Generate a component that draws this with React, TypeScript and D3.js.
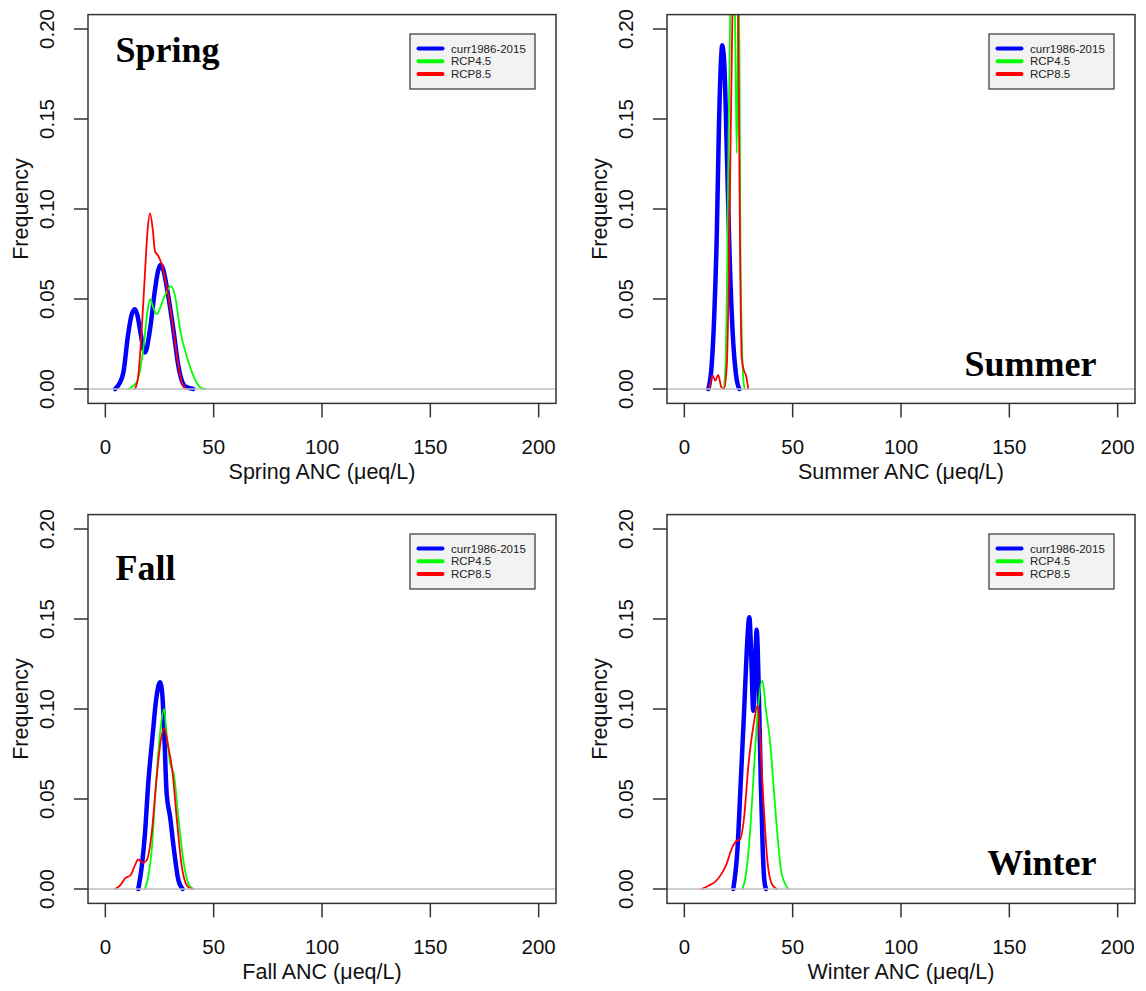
import React from "react";
import * as d3 from "d3";

const xTicks = [0, 50, 100, 150, 200];
const yTicks = [0, 0.05, 0.1, 0.15, 0.2];
const yTickLabels = ["0.00", "0.05", "0.10", "0.15", "0.20"];
const seriesNames = ["curr1986-2015", "RCP4.5", "RCP8.5"];
const seriesColors = ["#0000FF", "#00FF00", "#FF0000"];
const seriesWidths = [4.5, 1.8, 1.8];

// [ANC, frequency]
const springCurr: [number, number][] = [
  [4.5, 0], [6.5, 0.003], [8.3, 0.009], [10.6, 0.031], [12.3, 0.042], [13.7, 0.0443], [15.0, 0.04], [16.0, 0.033],
  [18.3, 0.0203], [20.6, 0.033], [22.9, 0.055], [24.4, 0.066], [25.6, 0.069], [26.8, 0.066], [28.3, 0.057],
  [31.4, 0.033], [33.7, 0.0129], [35.5, 0.004], [36.8, 0.0015], [40.6, 0],
];
const springRcp45: [number, number][] = [
  [10.6, 0], [14.5, 0.0037], [17.5, 0.022], [19.4, 0.0425], [20.6, 0.0499], [22.2, 0.045], [23.7, 0.0416],
  [26.8, 0.0499], [30.2, 0.0572], [32.2, 0.0517], [34.5, 0.033], [37.6, 0.018], [40.6, 0.0074], [43.7, 0.001], [46, 0],
];
const springRcp85: [number, number][] = [
  [13.7, 0], [15.2, 0.0074], [16.8, 0.033], [18.3, 0.0646], [19.4, 0.0868], [20.6, 0.0975], [21.9, 0.0886],
  [22.9, 0.0766], [24.5, 0.0738], [26.0, 0.0693], [28.3, 0.057], [31.4, 0.033], [33.7, 0.0129], [36.0, 0.0018], [37.6, 0],
];

const summerCurr: [number, number][] = [
  [11.1, 0], [12.6, 0.0129], [13.8, 0.0406], [15.0, 0.0868], [15.9, 0.142], [16.8, 0.179], [17.5, 0.191],
  [18.5, 0.179], [19.6, 0.133], [20.8, 0.0776], [22.3, 0.0314], [23.9, 0.0074], [25.4, 0],
];
const summerRcp45: [number, number][] = [
  [18.3, 0], [19.2, 0.02], [19.8, 0.07], [20.4, 0.14], [21.2, 0.21], [22.0, 0.26], [22.8, 0.24], [23.4, 0.205],
  [24.2, 0.131], [24.9, 0.21], [25.2, 0.22], [25.5, 0.17], [25.9, 0.08], [26.5, 0.031], [27.2, 0.006], [27.9, 0],
];
const summerRcp85: [number, number][] = [
  [11.5, 0], [13.1, 0.0074], [14.3, 0.0046], [15.6, 0.0078], [17.1, 0.001], [18.3, 0], [19.6, 0.0129],
  [20.6, 0.068], [21.4, 0.142], [22.2, 0.208], [23.2, 0.29], [24.2, 0.27], [24.8, 0.208], [25.3, 0.14],
  [25.8, 0.068], [26.5, 0.017], [27.6, 0.01], [28.5, 0.0074], [29.5, 0],
];

const fallCurr: [number, number][] = [
  [15.2, 0], [16.8, 0.0124], [18.3, 0.031], [19.8, 0.0586], [21.9, 0.0863], [23.4, 0.1047], [25.2, 0.1149],
  [26.3, 0.108], [27.2, 0.086], [28.3, 0.053], [29.9, 0.04], [31.7, 0.0216], [33.7, 0.005], [35.7, 0],
];
const fallRcp45: [number, number][] = [
  [18.3, 0], [19.8, 0.0068], [21.4, 0.0216], [23.4, 0.0586], [25.2, 0.086], [27.1, 0.1001], [28.3, 0.086],
  [29.9, 0.0696], [31.7, 0.0632], [33.7, 0.04], [36.0, 0.016], [38.3, 0.003], [40.6, 0],
];
const fallRcp85: [number, number][] = [
  [4.5, 0], [6.8, 0.002], [9.1, 0.0059], [11.7, 0.0078], [13.7, 0.0133], [15.2, 0.0164], [17.3, 0.0146],
  [19.1, 0.016], [21.4, 0.031], [23.7, 0.0622], [25.6, 0.0826], [27.2, 0.0894], [29.1, 0.0788], [31.1, 0.064],
  [32.9, 0.04], [35.3, 0.0124], [37.6, 0.002], [39.9, 0],
];

const winterCurr: [number, number][] = [
  [22.6, 0], [24.5, 0.0216], [26.0, 0.0586], [27.6, 0.099], [28.8, 0.132], [30.0, 0.151], [30.9, 0.129],
  [31.8, 0.099], [32.6, 0.123], [33.4, 0.144], [34.3, 0.114], [35.3, 0.0586], [36.2, 0.0216], [36.9, 0.005], [37.7, 0],
];
const winterRcp45: [number, number][] = [
  [26.9, 0], [28.5, 0.0087], [30.3, 0.031], [32.2, 0.0678], [33.9, 0.099], [36.0, 0.1158], [37.7, 0.099],
  [39.5, 0.0826], [41.1, 0.0586], [42.9, 0.031], [44.9, 0.0087], [48.0, 0],
];
const winterRcp85: [number, number][] = [
  [8.0, 0], [11.1, 0.0018], [14.2, 0.004], [17.3, 0.0087], [19.6, 0.0142], [21.9, 0.0225], [24.2, 0.0268],
  [25.7, 0.0275], [27.6, 0.04], [29.5, 0.0678], [31.8, 0.09], [33.9, 0.102], [34.9, 0.086], [36.5, 0.049],
  [38.3, 0.016], [40.3, 0.003], [42.6, 0],
];

type Panel = {
  id: string;
  title: string;
  xlab: string;
  left: number;
  top: number;
  series: [number, number][][];
  labelPos: "topleft" | "bottomright";
  labelDy: number;
};

const PW = 468;
const PH = 388.8;

const panels: Panel[] = [
  { id: "spring", title: "Spring", xlab: "Spring ANC (μeq/L)", left: 88, top: 14.6, series: [springCurr, springRcp45, springRcp85], labelPos: "topleft", labelDy: 47.5 },
  { id: "summer", title: "Summer", xlab: "Summer ANC (μeq/L)", left: 667, top: 14.6, series: [summerCurr, summerRcp45, summerRcp85], labelPos: "bottomright", labelDy: 27.7 },
  { id: "fall", title: "Fall", xlab: "Fall ANC (μeq/L)", left: 88, top: 514.6, series: [fallCurr, fallRcp45, fallRcp85], labelPos: "topleft", labelDy: 65.4 },
  { id: "winter", title: "Winter", xlab: "Winter ANC (μeq/L)", left: 667, top: 514.6, series: [winterCurr, winterRcp45, winterRcp85], labelPos: "bottomright", labelDy: 28.4 },
];

const axisFont = "'Liberation Sans', Arial, Helvetica, sans-serif";
const serifFont = "'Liberation Serif', 'Times New Roman', serif";

function PanelView({ p }: { p: Panel }) {
  const x = d3.scaleLinear().domain([-8, 208]).range([p.left, p.left + PW]);
  const y = d3.scaleLinear().domain([-0.008, 0.208]).range([p.top + PH, p.top]);
  const line = d3
    .line<[number, number]>()
    .x((d) => x(d[0]))
    .y((d) => y(d[1]))
    .curve(d3.curveMonotoneX);
  const bottom = p.top + PH;
  const right = p.left + PW;
  const clipId = `clip-${p.id}`;
  const legX = p.left + 322;
  const legY = p.top + 19.4;
  return (
    <g>
      <defs>
        <clipPath id={clipId}>
          <rect x={p.left} y={p.top} width={PW} height={PH} />
        </clipPath>
      </defs>
      <g clipPath={`url(#${clipId})`}>
        {p.series.map((s, i) => (
          <path key={i} d={line(s) || ""} fill="none" stroke={seriesColors[i]} strokeWidth={seriesWidths[i]} strokeLinejoin="round" strokeLinecap="round" />
        ))}
        <line x1={p.left} x2={right} y1={y(0)} y2={y(0)} stroke="#bebebe" strokeWidth={1.5} />
      </g>
      <rect x={p.left} y={p.top} width={PW} height={PH} fill="none" stroke="#333" strokeWidth={1.5} />
      {/* x axis */}
      {xTicks.map((t) => (
        <g key={t}>
          <line x1={x(t)} x2={x(t)} y1={bottom} y2={bottom + 14} stroke="#333" strokeWidth={1.5} />
          <text x={x(t)} y={bottom + 50.5} textAnchor="middle" fontFamily={axisFont} fontSize={20.5} fill="#111">
            {t}
          </text>
        </g>
      ))}
      <text x={(p.left + right) / 2} y={bottom + 76} textAnchor="middle" fontFamily={axisFont} fontSize={21.5} fill="#111">
        {p.xlab}
      </text>
      {/* y axis */}
      {yTicks.map((t, i) => (
        <g key={t}>
          <line x1={p.left - 14} x2={p.left} y1={y(t)} y2={y(t)} stroke="#333" strokeWidth={1.5} />
          <text
            transform={`translate(${p.left - 34},${y(t)}) rotate(-90)`}
            textAnchor="middle"
            fontFamily={axisFont}
            fontSize={20.5}
            fill="#111"
          >
            {yTickLabels[i]}
          </text>
        </g>
      ))}
      <text
        transform={`translate(${p.left - 60},${(p.top + bottom) / 2}) rotate(-90)`}
        textAnchor="middle"
        fontFamily={axisFont}
        fontSize={21.5}
        fill="#111"
      >
        Frequency
      </text>
      {/* season label */}
      {p.labelPos === "topleft" ? (
        <text x={p.left + 27.5} y={p.top + p.labelDy} fontFamily={serifFont} fontWeight="bold" fontSize={36} fill="#000">
          {p.title}
        </text>
      ) : (
        <text x={right - 38.5} y={bottom - p.labelDy} textAnchor="end" fontFamily={serifFont} fontWeight="bold" fontSize={36} fill="#000">
          {p.title}
        </text>
      )}
      {/* legend */}
      <rect x={legX} y={legY} width={125} height={55} fill="#f2f2f2" stroke="#333" strokeWidth={1.2} />
      {seriesNames.map((n, i) => {
        const ly = legY + 14.5 + i * 12.8;
        return (
          <g key={n}>
            <line x1={legX + 8.5} x2={legX + 32.5} y1={ly} y2={ly} stroke={seriesColors[i]} strokeWidth={4} strokeLinecap="round" />
            <text x={legX + 41} y={ly + 4} fontFamily={axisFont} fontSize={11.5} fill="#222">
              {n}
            </text>
          </g>
        );
      })}
    </g>
  );
}

export default function App() {
  return (
    <svg width={1146} height={991} style={{ position: "absolute", left: 0, top: 0, background: "#fff" }}>
      <rect x={0} y={0} width={1146} height={991} fill="#fff" />
      {panels.map((p) => (
        <PanelView key={p.id} p={p} />
      ))}
    </svg>
  );
}
